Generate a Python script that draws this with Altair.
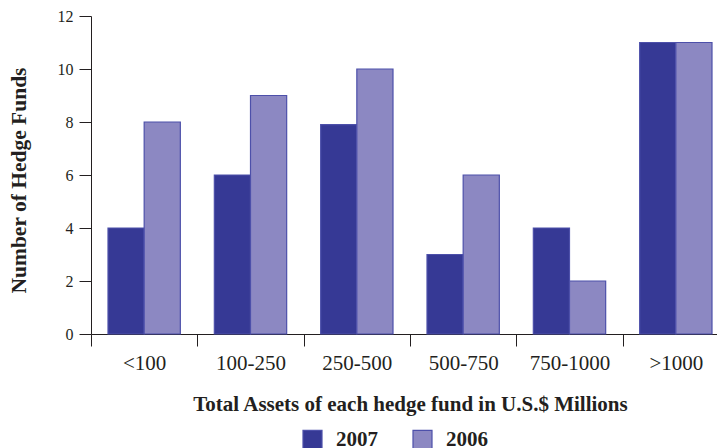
import altair as alt
import pandas as pd

categories = ["<100", "100-250", "250-500", "500-750", "750-1000", ">1000"]
years = ["2007", "2006"]
values_2007 = [4, 6, 7.9, 3, 4, 11]
values_2006 = [8, 9, 10, 6, 2, 11]
y_ticks = [0, 2, 4, 6, 8, 10, 12]
colors = ["#363995", "#8c88c2"]

rows = []
for c, v in zip(categories, values_2007):
    rows.append({"cat": c, "year": "2007", "n": v})
for c, v in zip(categories, values_2006):
    rows.append({"cat": c, "year": "2006", "n": v})
df = pd.DataFrame(rows)

FONT = "Liberation Serif"
INK = "#231f20"

chart = alt.Chart(df).mark_bar(stroke="#4d50aa", strokeWidth=1.2).encode(
    x=alt.X("cat:N", sort=categories,
            scale=alt.Scale(range=[0, 638], paddingInner=0, paddingOuter=0),
            axis=alt.Axis(title="Total Assets of each hedge fund in U.S.$ Millions",
                          labelAngle=0, labelFontSize=21, labelFont=FONT, labelColor=INK,
                          labelPadding=6, tickSize=12, tickBand="extent",
                          tickColor=INK, tickWidth=1, domainColor=INK,
                          titleFont=FONT, titleFontSize=21, titleFontWeight="bold",
                          titleColor=INK, titlePadding=20, titleX=319, titleAlign="center")),
    xOffset=alt.XOffset("year:N", sort=years,
                        scale=alt.Scale(paddingInner=0, paddingOuter=0.47)),
    y=alt.Y("n:Q", scale=alt.Scale(domain=[0, 12], nice=False),
            axis=alt.Axis(title="Number of Hedge Funds", values=y_ticks, grid=False,
                          labelFontSize=16, labelFont=FONT, labelColor=INK,
                          labelPadding=6, tickSize=12, tickColor=INK, domainColor=INK,
                          titleFont=FONT, titleFontSize=21.5, titleFontWeight="bold",
                          titleColor=INK, titleX=-72, titleY=164, titleAngle=-90,
                          titleAlign="center", titleBaseline="middle")),
    color=alt.Color("year:N", sort=years,
                    scale=alt.Scale(domain=years, range=colors),
                    legend=alt.Legend(title=None, orient="none", legendX=211, legendY=413,
                                      direction="horizontal", symbolType="square",
                                      symbolSize=361, symbolStrokeColor="#4d50aa",
                                      symbolStrokeWidth=1.2, symbolOpacity=1,
                                      labelFont=FONT, labelFontSize=21,
                                      labelFontWeight="bold", labelColor=INK,
                                      labelOffset=13, columnPadding=32, padding=0)),
).properties(
    width=626, height=318,
    autosize=alt.AutoSizeParams(type="none"),
    padding={"left": 83, "top": 8, "right": 0, "bottom": 114},
).configure_view(stroke=None)

chart.save("out.html", embed_options={"renderer": "svg", "actions": False})
